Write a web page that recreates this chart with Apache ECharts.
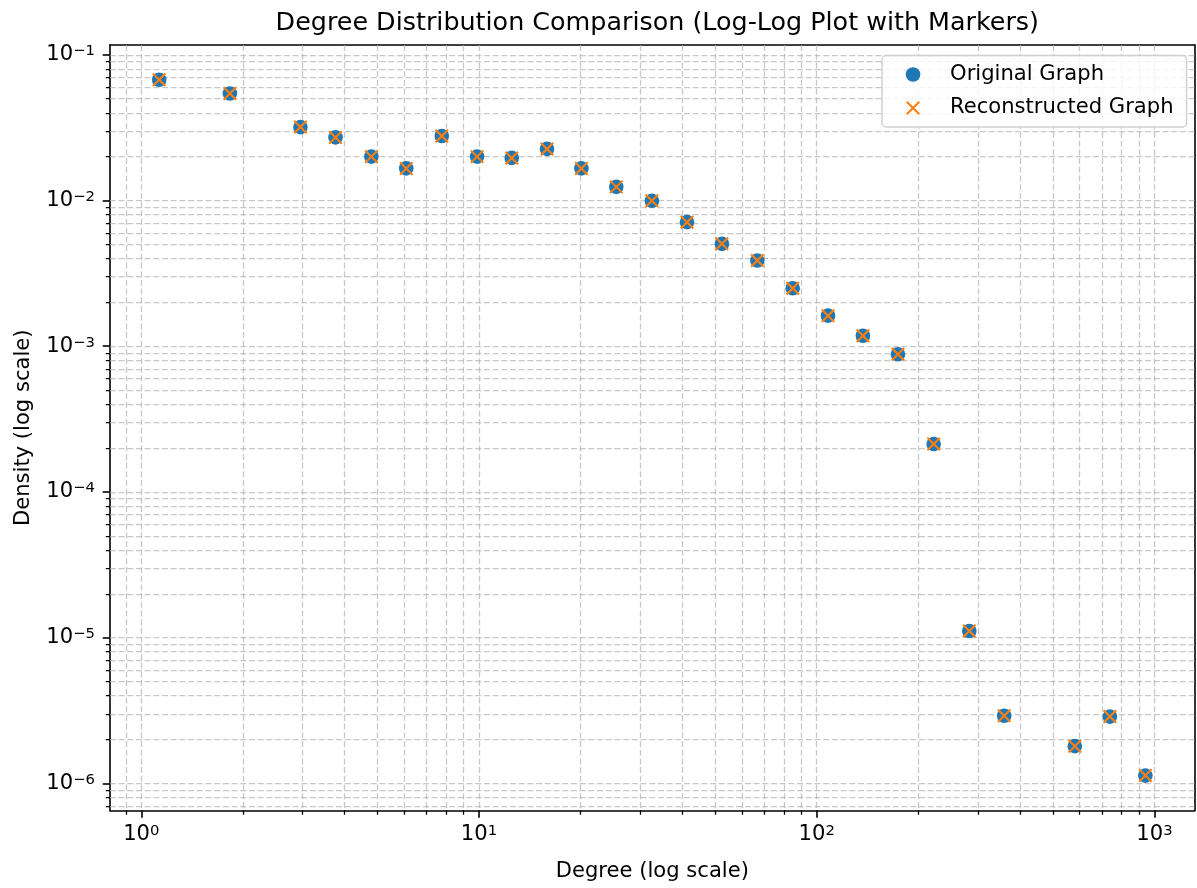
<!DOCTYPE html>
<html>
<head>
<meta charset="utf-8">
<script src="https://cdn.jsdelivr.net/npm/echarts@6/dist/echarts.min.js"></script>
<style>
html, body { margin: 0; padding: 0; background: #ffffff; }
#chart { width: 1197px; height: 888px; }
</style>
</head>
<body>
<div id="chart"></div>
<script>
// ---- data ----
const degree = [1.13, 1.83, 2.96, 3.76, 4.80, 6.09, 7.76, 9.87, 12.5, 15.9, 20.1, 25.5, 32.5,
                41.3, 52.4, 66.7, 84.9, 108, 137, 174, 222, 283, 359, 581, 738, 940];
const originalDensity = [0.0674, 0.0542, 0.0319, 0.0271, 0.0200, 0.0166, 0.0277, 0.0200, 0.0196,
                         0.0226, 0.0166, 0.0124, 0.00995, 0.00710, 0.00504, 0.00387, 0.00250,
                         0.00162, 0.00118, 0.000881, 0.000213, 1.11e-5, 2.91e-6, 1.80e-6, 2.87e-6, 1.13e-6];
const reconstructedDensity = [0.0674, 0.0542, 0.0319, 0.0271, 0.0200, 0.0166, 0.0277, 0.0200, 0.0196,
                              0.0226, 0.0166, 0.0124, 0.00995, 0.00710, 0.00504, 0.00387, 0.00250,
                              0.00162, 0.00118, 0.000881, 0.000213, 1.11e-5, 2.91e-6, 1.80e-6, 2.87e-6, 1.13e-6];
const seriesNames = ['Original Graph', 'Reconstructed Graph'];

// ---- axis ticks ----
const xMajorTicks = [1, 10, 100, 1000];
const xMinorTicks = [0.9, 2, 3, 4, 5, 6, 7, 8, 9, 20, 30, 40, 50, 60, 70, 80, 90,
                     200, 300, 400, 500, 600, 700, 800, 900];
const yMajorTicks = [1e-6, 1e-5, 1e-4, 1e-3, 1e-2, 1e-1];
const yMinorTicks = [7e-7, 8e-7, 9e-7,
                     2e-6, 3e-6, 4e-6, 5e-6, 6e-6, 7e-6, 8e-6, 9e-6,
                     2e-5, 3e-5, 4e-5, 5e-5, 6e-5, 7e-5, 8e-5, 9e-5,
                     2e-4, 3e-4, 4e-4, 5e-4, 6e-4, 7e-4, 8e-4, 9e-4,
                     2e-3, 3e-3, 4e-3, 5e-3, 6e-3, 7e-3, 8e-3, 9e-3,
                     2e-2, 3e-2, 4e-2, 5e-2, 6e-2, 7e-2, 8e-2, 9e-2];
const xRange = [0.808, 1315];
const yRange = [6.51e-7, 0.1167];

// ---- layout / style ----
const FONT = 'DejaVu Sans';
const FS = 21.1;
const GRID = { left: 110, right: 2.4, top: 45, bottom: 77.5 };
const PLOT_W = 1197 - GRID.left - GRID.right;
const PLOT_H = 888 - GRID.top - GRID.bottom;
const gridLineStyle = { color: 'rgba(176,176,176,0.7)', width: 1.25, type: [6, 2.7] };
const X_PATH = 'path://M0,0L0,0M1.05,1.05L13.55,13.55M13.55,1.05L1.05,13.55M14.6,14.6L14.6,14.6';

function powLabel(v) {
  const e = Math.round(Math.log10(v));
  return '{b|10}{sup|' + (e < 0 ? '\u2212' + (-e) : String(e)) + '}';
}
const labelRich = {
  b: { fontSize: FS, fontFamily: FONT, color: '#000', lineHeight: 22 },
  sup: { fontSize: 14.8, fontFamily: FONT, color: '#000', lineHeight: 12, verticalAlign: 'top' }
};
const nameStyle = { fontSize: FS, fontFamily: FONT, color: '#000' };
const frameLine = { show: true, onZero: false, lineStyle: { color: '#000', width: 1.6 } };

function pairs(xs, ys) { return xs.map((x, i) => [x, ys[i]]); }

const chart = echarts.init(document.getElementById('chart'), null, { renderer: 'canvas' });
chart.setOption({
  animation: false,
  backgroundColor: '#ffffff',
  title: {
    text: 'Degree Distribution Comparison (Log-Log Plot with Markers)',
    left: GRID.left + PLOT_W / 2,
    textAlign: 'center',
    top: 6,
    textStyle: { fontSize: 25.4, fontWeight: 'normal', fontFamily: FONT, color: '#000' }
  },
  legend: {
    orient: 'vertical',
    align: 'left',
    left: 882,
    top: 55.5,
    padding: [8.5, 13, 8.6, 22.7],
    itemWidth: 64,
    itemHeight: 14.6,
    itemGap: 12.4,
    backgroundColor: 'rgba(255,255,255,0.8)',
    borderColor: 'rgba(204,204,204,0.9)',
    borderWidth: 1.5,
    borderRadius: 4,
    textStyle: { fontSize: FS, fontFamily: FONT, color: '#000' },
    selectedMode: false,
    data: [
      { name: seriesNames[0] },
      { name: seriesNames[1], itemStyle: { color: 'rgba(0,0,0,0)', borderColor: '#ff7f0e', borderWidth: 2.1 } }
    ]
  },
  grid: [
    Object.assign({ show: false }, GRID),
    Object.assign({ show: false }, GRID)
  ],
  xAxis: [
    { // main bottom axis: major ticks + labels + frame
      type: 'log', gridIndex: 0, position: 'bottom', min: xRange[0], max: xRange[1],
      axisLine: frameLine,
      axisTick: { show: true, customValues: xMajorTicks, length: 7.3, lineStyle: { color: '#000', width: 1.6 } },
      axisLabel: { show: true, customValues: xMajorTicks, formatter: powLabel, rich: labelRich, margin: 13 },
      splitLine: { show: false },
      name: 'Degree (log scale)', nameLocation: 'middle', nameGap: 51, nameTextStyle: nameStyle
    },
    { // top axis: frame + all vertical grid lines
      type: 'log', gridIndex: 0, position: 'top', min: xRange[0], max: xRange[1],
      axisLine: frameLine,
      axisTick: { show: true, inside: true, customValues: xMajorTicks.concat(xMinorTicks), length: PLOT_H, lineStyle: gridLineStyle },
      axisLabel: { show: false },
      splitLine: { show: false }
    },
    { // minor ticks at bottom
      type: 'log', gridIndex: 1, position: 'bottom', min: xRange[0], max: xRange[1],
      axisLine: { show: false, onZero: false },
      axisTick: { show: true, customValues: xMinorTicks, length: 4.2, lineStyle: { color: '#000', width: 1.25 } },
      axisLabel: { show: false },
      splitLine: { show: false }
    }
  ],
  yAxis: [
    {
      type: 'log', gridIndex: 0, position: 'left', min: yRange[0], max: yRange[1],
      axisLine: frameLine,
      axisTick: { show: true, customValues: yMajorTicks, length: 7.3, lineStyle: { color: '#000', width: 1.6 } },
      axisLabel: { show: true, customValues: yMajorTicks, formatter: powLabel, rich: labelRich, margin: 15 },
      splitLine: { show: false },
      name: 'Density (log scale)', nameLocation: 'middle', nameGap: 76, nameTextStyle: nameStyle
    },
    {
      type: 'log', gridIndex: 0, position: 'right', min: yRange[0], max: yRange[1],
      axisLine: frameLine,
      axisTick: { show: true, inside: true, customValues: yMajorTicks.concat(yMinorTicks), length: PLOT_W, lineStyle: gridLineStyle },
      axisLabel: { show: false },
      splitLine: { show: false }
    },
    {
      type: 'log', gridIndex: 1, position: 'left', min: yRange[0], max: yRange[1],
      axisLine: { show: false, onZero: false },
      axisTick: { show: true, customValues: yMinorTicks, length: 4.2, lineStyle: { color: '#000', width: 1.25 } },
      axisLabel: { show: false },
      splitLine: { show: false }
    }
  ],
  series: [
    {
      name: seriesNames[0], type: 'scatter', xAxisIndex: 0, yAxisIndex: 0,
      data: pairs(degree, originalDensity),
      symbol: 'circle', symbolSize: 14.6,
      itemStyle: { color: '#1f77b4', opacity: 1 },
      silent: true, z: 3
    },
    {
      name: seriesNames[1], type: 'scatter', xAxisIndex: 0, yAxisIndex: 0,
      data: pairs(degree, reconstructedDensity),
      symbol: X_PATH, symbolSize: 14.6, symbolKeepAspect: true,
      itemStyle: { color: 'rgba(0,0,0,0)', borderColor: '#ff7f0e', borderWidth: 2.1, opacity: 1 },
      silent: true, z: 4
    }
  ]
});
</script>
</body>
</html>
